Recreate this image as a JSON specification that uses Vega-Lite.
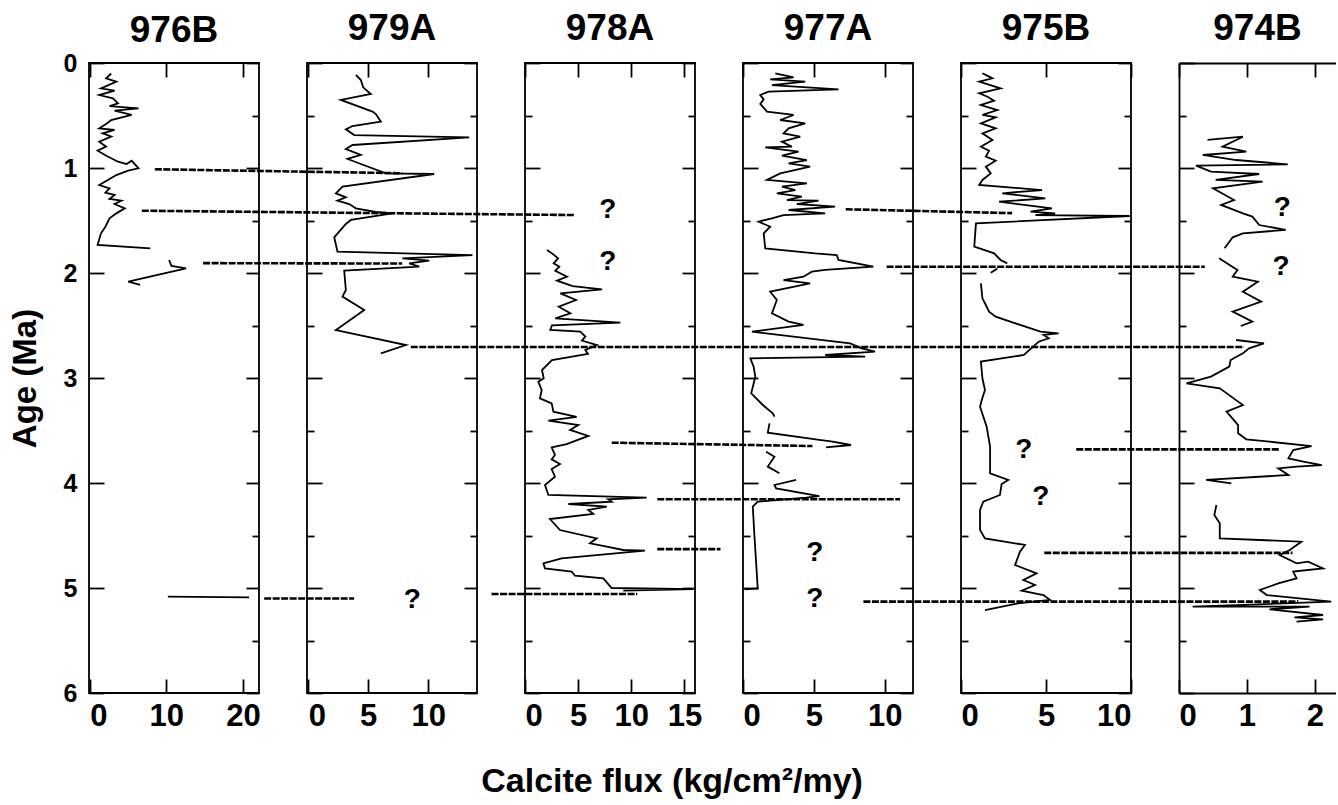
{
"$schema": "https://vega.github.io/schema/vega-lite/v6.json",
"padding": {"left": 8, "top": 9, "right": 0, "bottom": 3},
"background": "white",
"bounds": "flush",
"spacing": 48,
"title": {"text": "Calcite flux (kg/cm²/my)", "orient": "bottom", "anchor": "middle", "frame": "bounds", "fontSize": 34, "font": "Liberation Sans", "fontWeight": "bold", "color": "black", "baseline": "top", "offset": 33},
"config": {
  "view": {"stroke": "black", "strokeWidth": 1.8},
  "font": "Liberation Sans",
  "title": {"fontSize": 37, "font": "Liberation Sans", "fontWeight": "bold", "color": "black", "baseline": "alphabetic", "offset": 14, "anchor": "middle", "frame": "group"},
  "axis": {"grid": false, "domain": false, "tickColor": "black", "tickWidth": 1.8, "labelColor": "black", "labelFont": "Liberation Sans", "labelFontWeight": "bold", "titleColor": "black", "titleFont": "Liberation Sans", "titleFontWeight": "bold", "labelOverlap": false, "domainColor": "black", "domainWidth": 1.8},
  "axisX": {"labelFontSize": 31, "labelFlush": 4},
  "axisY": {"labelFontSize": 25}
},
"datasets": {
"curves": [
{"site":"976B","seg":"a","age":0.10,"flux":2.8},{"site":"976B","seg":"a","age":0.146,"flux":2.13},{"site":"976B","seg":"a","age":0.178,"flux":3.47},{"site":"976B","seg":"a","age":0.241,"flux":1.47},{"site":"976B","seg":"a","age":0.263,"flux":3.24},{"site":"976B","seg":"a","age":0.305,"flux":1.24},{"site":"976B","seg":"a","age":0.337,"flux":3.02},{"site":"976B","seg":"a","age":0.384,"flux":3.69},{"site":"976B","seg":"a","age":0.41,"flux":2.58},{"site":"976B","seg":"a","age":0.432,"flux":6.36},{"site":"976B","seg":"a","age":0.454,"flux":3.24},{"site":"976B","seg":"a","age":0.495,"flux":5.47},{"site":"976B","seg":"a","age":0.543,"flux":2.8},{"site":"976B","seg":"a","age":0.581,"flux":2.13},{"site":"976B","seg":"a","age":0.622,"flux":1.24},{"site":"976B","seg":"a","age":0.638,"flux":3.24},{"site":"976B","seg":"a","age":0.67,"flux":1.69},{"site":"976B","seg":"a","age":0.70,"flux":2.8},{"site":"976B","seg":"a","age":0.749,"flux":1.24},{"site":"976B","seg":"a","age":0.797,"flux":2.13},{"site":"976B","seg":"a","age":0.835,"flux":1.02},{"site":"976B","seg":"a","age":0.886,"flux":2.22},{"site":"976B","seg":"a","age":0.94,"flux":3.69},{"site":"976B","seg":"a","age":0.962,"flux":4.8},{"site":"976B","seg":"a","age":0.93,"flux":5.47},{"site":"976B","seg":"a","age":1.003,"flux":6.36},{"site":"976B","seg":"a","age":1.025,"flux":5.02},{"site":"976B","seg":"a","age":1.067,"flux":3.47},{"site":"976B","seg":"a","age":1.114,"flux":2.36},{"site":"976B","seg":"a","age":1.162,"flux":1.24},{"site":"976B","seg":"a","age":1.194,"flux":2.58},{"site":"976B","seg":"a","age":1.235,"flux":2.04},{"site":"976B","seg":"a","age":1.257,"flux":3.24},{"site":"976B","seg":"a","age":1.295,"flux":2.58},{"site":"976B","seg":"a","age":1.311,"flux":4.13},{"site":"976B","seg":"a","age":1.343,"flux":3.24},{"site":"976B","seg":"a","age":1.384,"flux":4.58},{"site":"976B","seg":"a","age":1.432,"flux":3.47},{"site":"976B","seg":"a","age":1.479,"flux":2.58},{"site":"976B","seg":"a","age":1.559,"flux":2.04},{"site":"976B","seg":"a","age":1.622,"flux":1.47},{"site":"976B","seg":"a","age":1.733,"flux":1.02},{"site":"976B","seg":"a","age":1.765,"flux":7.91},
{"site":"976B","seg":"b","age":1.876,"flux":10.36},{"site":"976B","seg":"b","age":1.933,"flux":10.67},{"site":"976B","seg":"b","age":1.956,"flux":12.58},{"site":"976B","seg":"b","age":2.083,"flux":5.02},{"site":"976B","seg":"b","age":2.114,"flux":6.58},
{"site":"976B","seg":"c","age":5.083,"flux":10.2},{"site":"976B","seg":"c","age":5.09,"flux":20.8},
{"site":"979A","seg":"a","age":0.114,"flux":3.97},{"site":"979A","seg":"a","age":0.162,"flux":4.39},{"site":"979A","seg":"a","age":0.232,"flux":4.58},{"site":"979A","seg":"a","age":0.295,"flux":5.22},{"site":"979A","seg":"a","age":0.352,"flux":2.72},{"site":"979A","seg":"a","age":0.463,"flux":5.36},{"site":"979A","seg":"a","age":0.486,"flux":5.64},{"site":"979A","seg":"a","age":0.559,"flux":6.06},{"site":"979A","seg":"a","age":0.60,"flux":3.69},{"site":"979A","seg":"a","age":0.632,"flux":3.14},{"site":"979A","seg":"a","age":0.686,"flux":3.83},{"site":"979A","seg":"a","age":0.708,"flux":13.42},{"site":"979A","seg":"a","age":0.781,"flux":3.69},{"site":"979A","seg":"a","age":0.819,"flux":3.14},{"site":"979A","seg":"a","age":0.876,"flux":4.39},{"site":"979A","seg":"a","age":0.914,"flux":3.28},{"site":"979A","seg":"a","age":1.051,"flux":6.47},{"site":"979A","seg":"a","age":1.057,"flux":10.5},{"site":"979A","seg":"a","age":1.178,"flux":2.86},{"site":"979A","seg":"a","age":1.241,"flux":2.31},{"site":"979A","seg":"a","age":1.279,"flux":3.14},{"site":"979A","seg":"a","age":1.311,"flux":2.44},{"site":"979A","seg":"a","age":1.343,"flux":3.42},{"site":"979A","seg":"a","age":1.384,"flux":3.97},{"site":"979A","seg":"a","age":1.419,"flux":5.64},{"site":"979A","seg":"a","age":1.432,"flux":7.03},{"site":"979A","seg":"a","age":1.495,"flux":3.56},{"site":"979A","seg":"a","age":1.533,"flux":3.14},{"site":"979A","seg":"a","age":1.66,"flux":2.17},{"site":"979A","seg":"a","age":1.797,"flux":2.44},{"site":"979A","seg":"a","age":1.829,"flux":13.69},{"site":"979A","seg":"a","age":1.86,"flux":7.86},{"site":"979A","seg":"a","age":1.883,"flux":10.08},{"site":"979A","seg":"a","age":1.908,"flux":8.42},{"site":"979A","seg":"a","age":1.94,"flux":9.25},{"site":"979A","seg":"a","age":1.978,"flux":3.0},{"site":"979A","seg":"a","age":2.162,"flux":3.14},{"site":"979A","seg":"a","age":2.225,"flux":2.86},{"site":"979A","seg":"a","age":2.352,"flux":4.67},{"site":"979A","seg":"a","age":2.543,"flux":2.31},{"site":"979A","seg":"a","age":2.686,"flux":8.14},{"site":"979A","seg":"a","age":2.765,"flux":6.06},
{"site":"978A","seg":"a","age":1.781,"flux":2.07},{"site":"978A","seg":"a","age":1.813,"flux":2.54},{"site":"978A","seg":"a","age":1.86,"flux":3.11},{"site":"978A","seg":"a","age":1.908,"flux":2.7},{"site":"978A","seg":"a","age":1.94,"flux":3.23},{"site":"978A","seg":"a","age":1.978,"flux":2.85},{"site":"978A","seg":"a","age":2.035,"flux":3.95},{"site":"978A","seg":"a","age":2.073,"flux":3.01},{"site":"978A","seg":"a","age":2.124,"flux":4.49},{"site":"978A","seg":"a","age":2.156,"flux":7.25},{"site":"978A","seg":"a","age":2.194,"flux":3.33},{"site":"978A","seg":"a","age":2.257,"flux":4.8},{"site":"978A","seg":"a","age":2.321,"flux":3.17},{"site":"978A","seg":"a","age":2.384,"flux":4.27},{"site":"978A","seg":"a","age":2.432,"flux":2.85},{"site":"978A","seg":"a","age":2.473,"flux":8.97},{"site":"978A","seg":"a","age":2.498,"flux":2.54},{"site":"978A","seg":"a","age":2.543,"flux":2.38},{"site":"978A","seg":"a","age":2.559,"flux":5.21},{"site":"978A","seg":"a","age":2.606,"flux":5.68},{"site":"978A","seg":"a","age":2.644,"flux":5.36},{"site":"978A","seg":"a","age":2.686,"flux":6.78},{"site":"978A","seg":"a","age":2.733,"flux":5.68},{"site":"978A","seg":"a","age":2.771,"flux":5.93},{"site":"978A","seg":"a","age":2.829,"flux":2.54},{"site":"978A","seg":"a","age":2.924,"flux":1.6},{"site":"978A","seg":"a","age":3.003,"flux":1.76},{"site":"978A","seg":"a","age":3.035,"flux":1.25},{"site":"978A","seg":"a","age":3.114,"flux":1.57},{"site":"978A","seg":"a","age":3.194,"flux":1.41},{"site":"978A","seg":"a","age":3.241,"flux":2.51},{"site":"978A","seg":"a","age":3.321,"flux":2.67},{"site":"978A","seg":"a","age":3.371,"flux":4.86},{"site":"978A","seg":"a","age":3.406,"flux":2.2},{"site":"978A","seg":"a","age":3.448,"flux":5.02},{"site":"978A","seg":"a","age":3.495,"flux":4.24},{"site":"978A","seg":"a","age":3.552,"flux":5.96},{"site":"978A","seg":"a","age":3.629,"flux":3.92},{"site":"978A","seg":"a","age":3.66,"flux":2.51},{"site":"978A","seg":"a","age":3.733,"flux":2.82},{"site":"978A","seg":"a","age":3.775,"flux":2.51},{"site":"978A","seg":"a","age":3.819,"flux":3.29},{"site":"978A","seg":"a","age":3.867,"flux":2.51},{"site":"978A","seg":"a","age":3.94,"flux":2.82},{"site":"978A","seg":"a","age":4.019,"flux":1.88},{"site":"978A","seg":"a","age":4.114,"flux":2.2},{"site":"978A","seg":"a","age":4.14,"flux":11.45},{"site":"978A","seg":"a","age":4.156,"flux":7.84},{"site":"978A","seg":"a","age":4.178,"flux":8.16},{"site":"978A","seg":"a","age":4.2,"flux":4.08},{"site":"978A","seg":"a","age":4.225,"flux":7.69},{"site":"978A","seg":"a","age":4.257,"flux":5.96},{"site":"978A","seg":"a","age":4.295,"flux":6.43},{"site":"978A","seg":"a","age":4.343,"flux":2.35},{"site":"978A","seg":"a","age":4.448,"flux":3.29},{"site":"978A","seg":"a","age":4.527,"flux":6.75},{"site":"978A","seg":"a","age":4.575,"flux":6.12},{"site":"978A","seg":"a","age":4.606,"flux":7.69},{"site":"978A","seg":"a","age":4.638,"flux":9.25},{"site":"978A","seg":"a","age":4.644,"flux":11.29},{"site":"978A","seg":"a","age":4.718,"flux":3.45},{"site":"978A","seg":"a","age":4.765,"flux":1.73},{"site":"978A","seg":"a","age":4.813,"flux":1.88},{"site":"978A","seg":"a","age":4.844,"flux":4.39},{"site":"978A","seg":"a","age":4.883,"flux":4.71},{"site":"978A","seg":"a","age":4.908,"flux":7.37},{"site":"978A","seg":"a","age":5.0,"flux":8.16},{"site":"978A","seg":"a","age":5.01,"flux":15.84},{"site":"978A","seg":"a","age":5.025,"flux":9.25},
{"site":"977A","seg":"a","age":0.098,"flux":2.28},{"site":"977A","seg":"a","age":0.137,"flux":3.57},{"site":"977A","seg":"a","age":0.156,"flux":1.92},{"site":"977A","seg":"a","age":0.178,"flux":4.39},{"site":"977A","seg":"a","age":0.21,"flux":2.04},{"site":"977A","seg":"a","age":0.251,"flux":6.74},{"site":"977A","seg":"a","age":0.273,"flux":1.81},{"site":"977A","seg":"a","age":0.305,"flux":1.22},{"site":"977A","seg":"a","age":0.346,"flux":1.46},{"site":"977A","seg":"a","age":0.39,"flux":1.22},{"site":"977A","seg":"a","age":0.463,"flux":1.69},{"site":"977A","seg":"a","age":0.495,"flux":3.57},{"site":"977A","seg":"a","age":0.543,"flux":2.63},{"site":"977A","seg":"a","age":0.575,"flux":4.39},{"site":"977A","seg":"a","age":0.622,"flux":3.22},{"site":"977A","seg":"a","age":0.67,"flux":2.86},{"site":"977A","seg":"a","age":0.702,"flux":4.04},{"site":"977A","seg":"a","age":0.749,"flux":2.75},{"site":"977A","seg":"a","age":0.797,"flux":3.45},{"site":"977A","seg":"a","age":0.803,"flux":1.57},{"site":"977A","seg":"a","age":0.844,"flux":3.92},{"site":"977A","seg":"a","age":0.883,"flux":2.75},{"site":"977A","seg":"a","age":0.924,"flux":4.51},{"site":"977A","seg":"a","age":0.956,"flux":3.22},{"site":"977A","seg":"a","age":0.987,"flux":4.74},{"site":"977A","seg":"a","age":1.051,"flux":2.63},{"site":"977A","seg":"a","age":1.114,"flux":1.69},{"site":"977A","seg":"a","age":1.146,"flux":4.51},{"site":"977A","seg":"a","age":1.178,"flux":2.75},{"site":"977A","seg":"a","age":1.21,"flux":3.69},{"site":"977A","seg":"a","age":1.241,"flux":2.39},{"site":"977A","seg":"a","age":1.273,"flux":4.15},{"site":"977A","seg":"a","age":1.305,"flux":3.1},{"site":"977A","seg":"a","age":1.311,"flux":5.33},{"site":"977A","seg":"a","age":1.343,"flux":3.8},{"site":"977A","seg":"a","age":1.368,"flux":6.5},{"site":"977A","seg":"a","age":1.4,"flux":3.22},{"site":"977A","seg":"a","age":1.432,"flux":5.8},{"site":"977A","seg":"a","age":1.448,"flux":2.86},{"site":"977A","seg":"a","age":1.479,"flux":2.04},{"site":"977A","seg":"a","age":1.511,"flux":1.1},{"site":"977A","seg":"a","age":1.559,"flux":1.92},{"site":"977A","seg":"a","age":1.622,"flux":1.46},{"site":"977A","seg":"a","age":1.765,"flux":1.57},{"site":"977A","seg":"a","age":1.813,"flux":5.09},{"site":"977A","seg":"a","age":1.829,"flux":6.62},{"site":"977A","seg":"a","age":1.876,"flux":6.74},{"site":"977A","seg":"a","age":1.94,"flux":9.2},{"site":"977A","seg":"a","age":1.971,"flux":5.8},{"site":"977A","seg":"a","age":1.987,"flux":4.86},{"site":"977A","seg":"a","age":2.035,"flux":4.27},{"site":"977A","seg":"a","age":2.067,"flux":2.86},{"site":"977A","seg":"a","age":2.098,"flux":4.74},{"site":"977A","seg":"a","age":2.178,"flux":1.92},{"site":"977A","seg":"a","age":2.257,"flux":2.39},{"site":"977A","seg":"a","age":2.384,"flux":2.04},{"site":"977A","seg":"a","age":2.463,"flux":3.22},{"site":"977A","seg":"a","age":2.495,"flux":4.27},{"site":"977A","seg":"a","age":2.559,"flux":0.63},{"site":"977A","seg":"a","age":2.67,"flux":7.56},{"site":"977A","seg":"a","age":2.717,"flux":8.38},{"site":"977A","seg":"a","age":2.749,"flux":9.32},{"site":"977A","seg":"a","age":2.781,"flux":5.8},{"site":"977A","seg":"a","age":2.797,"flux":8.62},{"site":"977A","seg":"a","age":2.813,"flux":0.52},{"site":"977A","seg":"a","age":2.892,"flux":0.75},{"site":"977A","seg":"a","age":2.987,"flux":0.87},{"site":"977A","seg":"a","age":3.146,"flux":0.58},{"site":"977A","seg":"a","age":3.257,"flux":1.4},{"site":"977A","seg":"a","age":3.336,"flux":2.1},{"site":"977A","seg":"a","age":3.368,"flux":2.22},
{"site":"977A","seg":"b","age":3.432,"flux":1.87},{"site":"977A","seg":"b","age":3.521,"flux":1.75},{"site":"977A","seg":"b","age":3.59,"flux":5.39},{"site":"977A","seg":"b","age":3.606,"flux":6.33},{"site":"977A","seg":"b","age":3.638,"flux":7.62},{"site":"977A","seg":"b","age":3.66,"flux":5.86},
{"site":"977A","seg":"c","age":3.702,"flux":1.63},{"site":"977A","seg":"c","age":3.75,"flux":2.22},{"site":"977A","seg":"c","age":3.844,"flux":1.75},{"site":"977A","seg":"c","age":3.908,"flux":2.57},
{"site":"977A","seg":"d","age":3.971,"flux":3.75},{"site":"977A","seg":"d","age":4.019,"flux":2.22},{"site":"977A","seg":"d","age":4.051,"flux":2.34},{"site":"977A","seg":"d","age":4.124,"flux":5.39},{"site":"977A","seg":"d","age":4.14,"flux":4.45},{"site":"977A","seg":"d","age":4.178,"flux":1.04},{"site":"977A","seg":"d","age":4.225,"flux":0.69},{"site":"977A","seg":"d","age":4.51,"flux":0.81},{"site":"977A","seg":"d","age":5.003,"flux":1.04},{"site":"977A","seg":"d","age":5.013,"flux":0.11},
{"site":"975B","seg":"a","age":0.098,"flux":1.26},{"site":"975B","seg":"a","age":0.146,"flux":1.85},{"site":"975B","seg":"a","age":0.178,"flux":1.07},{"site":"975B","seg":"a","age":0.241,"flux":2.33},{"site":"975B","seg":"a","age":0.289,"flux":1.07},{"site":"975B","seg":"a","age":0.321,"flux":1.56},{"site":"975B","seg":"a","age":0.359,"flux":1.95},{"site":"975B","seg":"a","age":0.4,"flux":1.17},{"site":"975B","seg":"a","age":0.448,"flux":2.14},{"site":"975B","seg":"a","age":0.495,"flux":1.26},{"site":"975B","seg":"a","age":0.517,"flux":2.04},{"site":"975B","seg":"a","age":0.575,"flux":1.17},{"site":"975B","seg":"a","age":0.622,"flux":2.04},{"site":"975B","seg":"a","age":0.67,"flux":1.26},{"site":"975B","seg":"a","age":0.733,"flux":1.85},{"site":"975B","seg":"a","age":0.797,"flux":1.17},{"site":"975B","seg":"a","age":0.835,"flux":1.65},{"site":"975B","seg":"a","age":0.892,"flux":1.46},{"site":"975B","seg":"a","age":0.93,"flux":2.04},{"site":"975B","seg":"a","age":0.987,"flux":1.46},{"site":"975B","seg":"a","age":1.051,"flux":1.75},{"site":"975B","seg":"a","age":1.114,"flux":1.26},{"site":"975B","seg":"a","age":1.162,"flux":1.07},{"site":"975B","seg":"a","age":1.21,"flux":4.77},{"site":"975B","seg":"a","age":1.241,"flux":2.43},{"site":"975B","seg":"a","age":1.289,"flux":4.96},{"site":"975B","seg":"a","age":1.321,"flux":2.24},{"site":"975B","seg":"a","age":1.384,"flux":5.35},{"site":"975B","seg":"a","age":1.416,"flux":4.09},{"site":"975B","seg":"a","age":1.432,"flux":5.54},{"site":"975B","seg":"a","age":1.448,"flux":4.38},{"site":"975B","seg":"a","age":1.457,"flux":9.92},{"site":"975B","seg":"a","age":1.527,"flux":0.88},{"site":"975B","seg":"a","age":1.749,"flux":0.78},{"site":"975B","seg":"a","age":1.813,"flux":1.95},{"site":"975B","seg":"a","age":1.876,"flux":2.33},{"site":"975B","seg":"a","age":1.908,"flux":2.72},
{"site":"975B","seg":"b","age":1.956,"flux":2.14},{"site":"975B","seg":"b","age":1.997,"flux":1.75},
{"site":"975B","seg":"c","age":2.098,"flux":1.17},{"site":"975B","seg":"c","age":2.241,"flux":1.26},{"site":"975B","seg":"c","age":2.305,"flux":1.46},{"site":"975B","seg":"c","age":2.368,"flux":1.65},{"site":"975B","seg":"c","age":2.416,"flux":2.04},{"site":"975B","seg":"c","age":2.559,"flux":4.67},{"site":"975B","seg":"c","age":2.575,"flux":5.74},{"site":"975B","seg":"c","age":2.59,"flux":4.86},{"site":"975B","seg":"c","age":2.622,"flux":5.16},{"site":"975B","seg":"c","age":2.654,"flux":4.57},{"site":"975B","seg":"c","age":2.781,"flux":3.7},{"site":"975B","seg":"c","age":2.844,"flux":1.17},{"site":"975B","seg":"c","age":3.003,"flux":1.26},{"site":"975B","seg":"c","age":3.114,"flux":1.41},{"site":"975B","seg":"c","age":3.21,"flux":1.22},{"site":"975B","seg":"c","age":3.273,"flux":1.12},{"site":"975B","seg":"c","age":3.463,"flux":1.51},{"site":"975B","seg":"c","age":3.654,"flux":1.71},{"site":"975B","seg":"c","age":3.78,"flux":1.71},{"site":"975B","seg":"c","age":3.908,"flux":1.71},{"site":"975B","seg":"c","age":3.971,"flux":2.78},{"site":"975B","seg":"c","age":4.01,"flux":2.39},{"site":"975B","seg":"c","age":4.114,"flux":2.29},{"site":"975B","seg":"c","age":4.178,"flux":1.31},{"site":"975B","seg":"c","age":4.257,"flux":1.12},{"site":"975B","seg":"c","age":4.448,"flux":1.12},{"site":"975B","seg":"c","age":4.527,"flux":1.41},{"site":"975B","seg":"c","age":4.59,"flux":3.76},{"site":"975B","seg":"c","age":4.654,"flux":3.47},{"site":"975B","seg":"c","age":4.781,"flux":3.18},{"site":"975B","seg":"c","age":4.86,"flux":4.45},{"site":"975B","seg":"c","age":4.924,"flux":3.67},{"site":"975B","seg":"c","age":4.971,"flux":4.35},{"site":"975B","seg":"c","age":5.025,"flux":3.57},{"site":"975B","seg":"c","age":5.067,"flux":4.84},{"site":"975B","seg":"c","age":5.114,"flux":5.24},{"site":"975B","seg":"c","age":5.146,"flux":3.37},{"site":"975B","seg":"c","age":5.21,"flux":1.41},
{"site":"974B","seg":"a","age":0.733,"flux":0.42},{"site":"974B","seg":"a","age":0.702,"flux":0.94},{"site":"974B","seg":"a","age":0.797,"flux":0.64},{"site":"974B","seg":"a","age":0.844,"flux":0.99},{"site":"974B","seg":"a","age":0.876,"flux":0.35},{"site":"974B","seg":"a","age":0.924,"flux":0.84},{"site":"974B","seg":"a","age":0.965,"flux":1.6},{"site":"974B","seg":"a","age":0.978,"flux":0.25},{"site":"974B","seg":"a","age":1.035,"flux":0.47},{"site":"974B","seg":"a","age":1.057,"flux":1.18},{"site":"974B","seg":"a","age":1.114,"flux":0.54},{"site":"974B","seg":"a","age":1.13,"flux":1.23},{"site":"974B","seg":"a","age":1.194,"flux":0.5},{"site":"974B","seg":"a","age":1.305,"flux":0.81},{"site":"974B","seg":"a","age":1.352,"flux":0.62},{"site":"974B","seg":"a","age":1.432,"flux":0.94},{"site":"974B","seg":"a","age":1.463,"flux":1.08},{"site":"974B","seg":"a","age":1.543,"flux":1.18},{"site":"974B","seg":"a","age":1.59,"flux":1.57},{"site":"974B","seg":"a","age":1.622,"flux":0.94},{"site":"974B","seg":"a","age":1.66,"flux":0.79},{"site":"974B","seg":"a","age":1.765,"flux":0.67},
{"site":"974B","seg":"b","age":1.86,"flux":0.59},{"site":"974B","seg":"b","age":1.971,"flux":0.86},{"site":"974B","seg":"b","age":2.035,"flux":0.79},{"site":"974B","seg":"b","age":2.083,"flux":1.16},{"site":"974B","seg":"b","age":2.178,"flux":0.94},{"site":"974B","seg":"b","age":2.273,"flux":1.21},{"site":"974B","seg":"b","age":2.368,"flux":0.79},{"site":"974B","seg":"b","age":2.463,"flux":1.08},{"site":"974B","seg":"b","age":2.505,"flux":0.91},
{"site":"974B","seg":"c","age":2.638,"flux":0.84},{"site":"974B","seg":"c","age":2.67,"flux":1.25},{"site":"974B","seg":"c","age":2.717,"flux":1.03},{"site":"974B","seg":"c","age":2.765,"flux":0.94},{"site":"974B","seg":"c","age":2.829,"flux":0.76},{"site":"974B","seg":"c","age":2.892,"flux":0.74},{"site":"974B","seg":"c","age":2.987,"flux":0.47},{"site":"974B","seg":"c","age":3.051,"flux":0.11},{"site":"974B","seg":"c","age":3.098,"flux":0.6},{"site":"974B","seg":"c","age":3.225,"flux":0.87},{"site":"974B","seg":"c","age":3.257,"flux":0.94},{"site":"974B","seg":"c","age":3.321,"flux":0.7},{"site":"974B","seg":"c","age":3.448,"flux":0.87},{"site":"974B","seg":"c","age":3.527,"flux":0.87},{"site":"974B","seg":"c","age":3.584,"flux":0.99},{"site":"974B","seg":"c","age":3.648,"flux":1.95},{"site":"974B","seg":"c","age":3.686,"flux":1.68},{"site":"974B","seg":"c","age":3.765,"flux":1.61},{"site":"974B","seg":"c","age":3.797,"flux":1.83},{"site":"974B","seg":"c","age":3.829,"flux":2.1},{"site":"974B","seg":"c","age":3.844,"flux":1.73},{"site":"974B","seg":"c","age":3.86,"flux":1.46},{"site":"974B","seg":"c","age":3.924,"flux":1.61},{"site":"974B","seg":"c","age":3.971,"flux":0.4},{"site":"974B","seg":"c","age":4.003,"flux":0.77},
{"site":"974B","seg":"d","age":4.21,"flux":0.55},{"site":"974B","seg":"d","age":4.305,"flux":0.52},{"site":"974B","seg":"d","age":4.384,"flux":0.6},{"site":"974B","seg":"d","age":4.527,"flux":0.6},{"site":"974B","seg":"d","age":4.559,"flux":1.8},{"site":"974B","seg":"d","age":4.638,"flux":1.63},{"site":"974B","seg":"d","age":4.686,"flux":1.48},{"site":"974B","seg":"d","age":4.765,"flux":1.73},{"site":"974B","seg":"d","age":4.749,"flux":1.9},{"site":"974B","seg":"d","age":4.813,"flux":2.12},{"site":"974B","seg":"d","age":4.844,"flux":1.68},{"site":"974B","seg":"d","age":4.908,"flux":1.73},{"site":"974B","seg":"d","age":4.956,"flux":1.46},{"site":"974B","seg":"d","age":5.019,"flux":1.19},{"site":"974B","seg":"d","age":5.067,"flux":1.29},{"site":"974B","seg":"d","age":5.13,"flux":2.24},{"site":"974B","seg":"d","age":5.178,"flux":0.2},{"site":"974B","seg":"d","age":5.178,"flux":1.92},{"site":"974B","seg":"d","age":5.203,"flux":1.33},{"site":"974B","seg":"d","age":5.257,"flux":2.12},{"site":"974B","seg":"d","age":5.279,"flux":1.7},{"site":"974B","seg":"d","age":5.298,"flux":2.12},{"site":"974B","seg":"d","age":5.321,"flux":1.73}
],
"corr": [
{"host":"976B","id":"L1","age":1.012,"flux":8.5},{"host":"976B","id":"L1","age":1.05,"flux":40.8},
{"host":"976B","id":"L2","age":1.407,"flux":6.8},{"host":"976B","id":"L2","age":1.448,"flux":63.3},
{"host":"976B","id":"L3","age":1.906,"flux":14.8},{"host":"976B","id":"L3","age":1.91,"flux":40.8},
{"host":"979A","id":"L4","age":2.705,"flux":8.55},{"host":"979A","id":"L4","age":2.705,"flux":78.0},
{"host":"979A","id":"L11","age":5.10,"flux":-3.67},{"host":"979A","id":"L11","age":5.10,"flux":3.83},
{"host":"978A","id":"L7","age":3.616,"flux":8.16},{"host":"978A","id":"L7","age":3.648,"flux":27.05},
{"host":"978A","id":"L8","age":4.155,"flux":12.45},{"host":"978A","id":"L8","age":4.155,"flux":35.3},
{"host":"978A","id":"L9","age":4.63,"flux":12.45},{"host":"978A","id":"L9","age":4.63,"flux":18.4},
{"host":"978A","id":"L10","age":5.057,"flux":-3.15},{"host":"978A","id":"L10","age":5.057,"flux":10.57},
{"host":"977A","id":"L5","age":1.393,"flux":7.25},{"host":"977A","id":"L5","age":1.43,"flux":19.0},
{"host":"977A","id":"L6","age":1.94,"flux":10.14},{"host":"977A","id":"L6","age":1.94,"flux":32.6},
{"host":"977A","id":"L12","age":5.13,"flux":8.5},{"host":"977A","id":"L12","age":5.13,"flux":39.2},
{"host":"975B","id":"L13","age":3.68,"flux":6.78},{"host":"975B","id":"L13","age":3.68,"flux":18.7},
{"host":"975B","id":"L14","age":4.665,"flux":4.9},{"host":"975B","id":"L14","age":4.665,"flux":19.5}
],
"q": [
{"site":"979A","age":5.11,"flux":8.67},
{"site":"978A","age":1.40,"flux":7.8},{"site":"978A","age":1.892,"flux":7.8},
{"site":"977A","age":4.67,"flux":5.07},{"site":"977A","age":5.10,"flux":5.07},
{"site":"975B","age":3.686,"flux":3.7},{"site":"975B","age":4.13,"flux":4.7},
{"site":"974B","age":1.384,"flux":1.52},{"site":"974B","age":1.94,"flux":1.5}
]
},
"hconcat": [
{
 "width": 170, "height": 630, "title": {"text": "976B", "offset": 1.5},
 "layer": [
  {"data": {"name": "curves"}, "transform": [{"filter": {"field": "site", "equal": "976B"}}],
   "mark": {"type": "line", "color": "black", "strokeWidth": 1.8, "clip": false},
   "encoding": {
    "x": {"field": "flux", "type": "quantitative", "scale": {"domain": [-0.1, 22.1], "nice": false, "zero": false}, "axis": {"orient": "bottom", "values": [0, 10, 20], "tickSize": -14, "labelPadding": 22, "title": null}},
    "y": {"field": "age", "type": "quantitative", "scale": {"domain": [0, 6], "reverse": true, "nice": false, "zero": false}, "axis": {"orient": "left", "values": [0,0.5,1,1.5,2,2.5,3,3.5,4,4.5,5,5.5,6], "format": "d", "tickSize": {"condition": {"test": "datum.value % 1 !== 0", "value": -7}, "value": -15}, "labelExpr": "datum.value % 1 === 0 ? datum.label : ''", "labelPadding": 27, "title": "Age (Ma)", "titleFontSize": 33, "titlePadding": 21}},
    "detail": {"field": "seg"}, "order": {"value": null}}},
  {"data": {"name": "corr"}, "transform": [{"filter": {"field": "host", "equal": "976B"}}],
   "mark": {"type": "line", "color": "black", "strokeWidth": 2.6, "strokeDash": [7, 1.5], "clip": false},
   "encoding": {
    "x": {"field": "flux", "type": "quantitative", "scale": {"domain": [-0.1, 22.1], "nice": false, "zero": false}, "axis": {"orient": "top", "values": [0, 10, 20], "tickSize": -14, "labels": false, "title": null}},
    "y": {"field": "age", "type": "quantitative", "scale": {"domain": [0, 6], "reverse": true, "nice": false, "zero": false}, "axis": {"orient": "right", "values": [0,0.5,1,1.5,2,2.5,3,3.5,4,4.5,5,5.5,6], "tickSize": {"condition": {"test": "datum.value % 1 !== 0", "value": -7}, "value": -13}, "labels": false, "title": null}},
    "detail": {"field": "id"}, "order": {"value": null}}}
 ],
 "resolve": {"axis": {"x": "independent", "y": "independent"}}
},
{
 "width": 170, "height": 630, "title": {"text": "979A"},
 "layer": [
  {"data": {"name": "curves"}, "transform": [{"filter": {"field": "site", "equal": "979A"}}],
   "mark": {"type": "line", "color": "black", "strokeWidth": 1.8, "clip": false},
   "encoding": {
    "x": {"field": "flux", "type": "quantitative", "scale": {"domain": [-0.1, 14.07], "nice": false, "zero": false}, "axis": {"orient": "bottom", "values": [0, 5, 10], "tickSize": -14, "labelPadding": 22, "title": null}},
    "y": {"field": "age", "type": "quantitative", "scale": {"domain": [0, 6], "reverse": true, "nice": false, "zero": false}, "axis": {"orient": "left", "values": [0,0.5,1,1.5,2,2.5,3,3.5,4,4.5,5,5.5,6], "tickSize": {"condition": {"test": "datum.value % 1 !== 0", "value": -7}, "value": -15}, "labels": false, "title": null}},
    "detail": {"field": "seg"}, "order": {"value": null}}},
  {"data": {"name": "corr"}, "transform": [{"filter": {"field": "host", "equal": "979A"}}],
   "mark": {"type": "line", "color": "black", "strokeWidth": 2.6, "strokeDash": [7, 1.5], "clip": false},
   "encoding": {
    "x": {"field": "flux", "type": "quantitative", "scale": {"domain": [-0.1, 14.07], "nice": false, "zero": false}, "axis": {"orient": "top", "values": [0, 5, 10], "tickSize": -14, "labels": false, "title": null}},
    "y": {"field": "age", "type": "quantitative", "scale": {"domain": [0, 6], "reverse": true, "nice": false, "zero": false}, "axis": {"orient": "right", "values": [0,0.5,1,1.5,2,2.5,3,3.5,4,4.5,5,5.5,6], "tickSize": {"condition": {"test": "datum.value % 1 !== 0", "value": -7}, "value": -13}, "labels": false, "title": null}},
    "detail": {"field": "id"}, "order": {"value": null}}},
  {"data": {"name": "q"}, "transform": [{"filter": {"field": "site", "equal": "979A"}}],
   "mark": {"type": "text", "text": "?", "fontSize": 28, "fontWeight": "bold", "font": "Liberation Sans", "baseline": "middle", "align": "center", "color": "black"},
   "encoding": {"x": {"field": "flux", "type": "quantitative", "scale": {"domain": [-0.1, 14.07], "nice": false, "zero": false}, "axis": null}, "y": {"field": "age", "type": "quantitative", "scale": {"domain": [0, 6], "reverse": true, "nice": false, "zero": false}, "axis": null}}}
 ],
 "resolve": {"axis": {"x": "independent", "y": "independent"}}
},
{
 "width": 170, "height": 630, "title": {"text": "978A"},
 "layer": [
  {"data": {"name": "curves"}, "transform": [{"filter": {"field": "site", "equal": "978A"}}],
   "mark": {"type": "line", "color": "black", "strokeWidth": 1.8, "clip": false},
   "encoding": {
    "x": {"field": "flux", "type": "quantitative", "scale": {"domain": [0, 16], "nice": false, "zero": false}, "axis": {"orient": "bottom", "values": [0, 5, 10, 15], "tickSize": -14, "labelPadding": 22, "title": null}},
    "y": {"field": "age", "type": "quantitative", "scale": {"domain": [0, 6], "reverse": true, "nice": false, "zero": false}, "axis": {"orient": "left", "values": [0,0.5,1,1.5,2,2.5,3,3.5,4,4.5,5,5.5,6], "tickSize": {"condition": {"test": "datum.value % 1 !== 0", "value": -7}, "value": -15}, "labels": false, "title": null}},
    "detail": {"field": "seg"}, "order": {"value": null}}},
  {"data": {"name": "corr"}, "transform": [{"filter": {"field": "host", "equal": "978A"}}],
   "mark": {"type": "line", "color": "black", "strokeWidth": 2.6, "strokeDash": [7, 1.5], "clip": false},
   "encoding": {
    "x": {"field": "flux", "type": "quantitative", "scale": {"domain": [0, 16], "nice": false, "zero": false}, "axis": {"orient": "top", "values": [0, 5, 10, 15], "tickSize": -14, "labels": false, "title": null}},
    "y": {"field": "age", "type": "quantitative", "scale": {"domain": [0, 6], "reverse": true, "nice": false, "zero": false}, "axis": {"orient": "right", "values": [0,0.5,1,1.5,2,2.5,3,3.5,4,4.5,5,5.5,6], "tickSize": {"condition": {"test": "datum.value % 1 !== 0", "value": -7}, "value": -13}, "labels": false, "title": null}},
    "detail": {"field": "id"}, "order": {"value": null}}},
  {"data": {"name": "q"}, "transform": [{"filter": {"field": "site", "equal": "978A"}}],
   "mark": {"type": "text", "text": "?", "fontSize": 28, "fontWeight": "bold", "font": "Liberation Sans", "baseline": "middle", "align": "center", "color": "black"},
   "encoding": {"x": {"field": "flux", "type": "quantitative", "scale": {"domain": [0, 16], "nice": false, "zero": false}, "axis": null}, "y": {"field": "age", "type": "quantitative", "scale": {"domain": [0, 6], "reverse": true, "nice": false, "zero": false}, "axis": null}}}
 ],
 "resolve": {"axis": {"x": "independent", "y": "independent"}}
},
{
 "width": 170, "height": 630, "title": {"text": "977A"},
 "layer": [
  {"data": {"name": "curves"}, "transform": [{"filter": {"field": "site", "equal": "977A"}}],
   "mark": {"type": "line", "color": "black", "strokeWidth": 1.8, "clip": false},
   "encoding": {
    "x": {"field": "flux", "type": "quantitative", "scale": {"domain": [0, 12], "nice": false, "zero": false}, "axis": {"orient": "bottom", "values": [0, 5, 10], "tickSize": -14, "labelPadding": 22, "title": null}},
    "y": {"field": "age", "type": "quantitative", "scale": {"domain": [0, 6], "reverse": true, "nice": false, "zero": false}, "axis": {"orient": "left", "values": [0,0.5,1,1.5,2,2.5,3,3.5,4,4.5,5,5.5,6], "tickSize": {"condition": {"test": "datum.value % 1 !== 0", "value": -7}, "value": -15}, "labels": false, "title": null}},
    "detail": {"field": "seg"}, "order": {"value": null}}},
  {"data": {"name": "corr"}, "transform": [{"filter": {"field": "host", "equal": "977A"}}],
   "mark": {"type": "line", "color": "black", "strokeWidth": 2.6, "strokeDash": [7, 1.5], "clip": false},
   "encoding": {
    "x": {"field": "flux", "type": "quantitative", "scale": {"domain": [0, 12], "nice": false, "zero": false}, "axis": {"orient": "top", "values": [0, 5, 10], "tickSize": -14, "labels": false, "title": null}},
    "y": {"field": "age", "type": "quantitative", "scale": {"domain": [0, 6], "reverse": true, "nice": false, "zero": false}, "axis": {"orient": "right", "values": [0,0.5,1,1.5,2,2.5,3,3.5,4,4.5,5,5.5,6], "tickSize": {"condition": {"test": "datum.value % 1 !== 0", "value": -7}, "value": -13}, "labels": false, "title": null}},
    "detail": {"field": "id"}, "order": {"value": null}}},
  {"data": {"name": "q"}, "transform": [{"filter": {"field": "site", "equal": "977A"}}],
   "mark": {"type": "text", "text": "?", "fontSize": 28, "fontWeight": "bold", "font": "Liberation Sans", "baseline": "middle", "align": "center", "color": "black"},
   "encoding": {"x": {"field": "flux", "type": "quantitative", "scale": {"domain": [0, 12], "nice": false, "zero": false}, "axis": null}, "y": {"field": "age", "type": "quantitative", "scale": {"domain": [0, 6], "reverse": true, "nice": false, "zero": false}, "axis": null}}}
 ],
 "resolve": {"axis": {"x": "independent", "y": "independent"}}
},
{
 "width": 170, "height": 630, "title": {"text": "975B"},
 "layer": [
  {"data": {"name": "curves"}, "transform": [{"filter": {"field": "site", "equal": "975B"}}],
   "mark": {"type": "line", "color": "black", "strokeWidth": 1.8, "clip": false},
   "encoding": {
    "x": {"field": "flux", "type": "quantitative", "scale": {"domain": [0, 10], "nice": false, "zero": false}, "axis": {"orient": "bottom", "values": [0, 5, 10], "tickSize": -14, "labelPadding": 22, "title": null}},
    "y": {"field": "age", "type": "quantitative", "scale": {"domain": [0, 6], "reverse": true, "nice": false, "zero": false}, "axis": {"orient": "left", "values": [0,0.5,1,1.5,2,2.5,3,3.5,4,4.5,5,5.5,6], "tickSize": {"condition": {"test": "datum.value % 1 !== 0", "value": -7}, "value": -15}, "labels": false, "title": null}},
    "detail": {"field": "seg"}, "order": {"value": null}}},
  {"data": {"name": "corr"}, "transform": [{"filter": {"field": "host", "equal": "975B"}}],
   "mark": {"type": "line", "color": "black", "strokeWidth": 2.6, "strokeDash": [7, 1.5], "clip": false},
   "encoding": {
    "x": {"field": "flux", "type": "quantitative", "scale": {"domain": [0, 10], "nice": false, "zero": false}, "axis": {"orient": "top", "values": [0, 5, 10], "tickSize": -14, "labels": false, "title": null}},
    "y": {"field": "age", "type": "quantitative", "scale": {"domain": [0, 6], "reverse": true, "nice": false, "zero": false}, "axis": {"orient": "right", "values": [0,0.5,1,1.5,2,2.5,3,3.5,4,4.5,5,5.5,6], "tickSize": {"condition": {"test": "datum.value % 1 !== 0", "value": -7}, "value": -13}, "labels": false, "title": null}},
    "detail": {"field": "id"}, "order": {"value": null}}},
  {"data": {"name": "q"}, "transform": [{"filter": {"field": "site", "equal": "975B"}}],
   "mark": {"type": "text", "text": "?", "fontSize": 28, "fontWeight": "bold", "font": "Liberation Sans", "baseline": "middle", "align": "center", "color": "black"},
   "encoding": {"x": {"field": "flux", "type": "quantitative", "scale": {"domain": [0, 10], "nice": false, "zero": false}, "axis": null}, "y": {"field": "age", "type": "quantitative", "scale": {"domain": [0, 6], "reverse": true, "nice": false, "zero": false}, "axis": null}}}
 ],
 "resolve": {"axis": {"x": "independent", "y": "independent"}}
},
{
 "width": 157, "height": 630, "title": {"text": "974B"},
 "view": {"stroke": null},
 "layer": [
  {"data": {"name": "curves"}, "transform": [{"filter": {"field": "site", "equal": "974B"}}],
   "mark": {"type": "line", "color": "black", "strokeWidth": 1.8, "clip": false},
   "encoding": {
    "x": {"field": "flux", "type": "quantitative", "scale": {"domain": [0, 2.31], "nice": false, "zero": false}, "axis": {"orient": "bottom", "values": [0, 1, 2], "tickSize": -14, "labelPadding": 22, "title": null, "domain": true}},
    "y": {"field": "age", "type": "quantitative", "scale": {"domain": [0, 6], "reverse": true, "nice": false, "zero": false}, "axis": {"orient": "left", "values": [0,0.5,1,1.5,2,2.5,3,3.5,4,4.5,5,5.5,6], "tickSize": {"condition": {"test": "datum.value % 1 !== 0", "value": -7}, "value": -15}, "labels": false, "title": null, "domain": true}},
    "detail": {"field": "seg"}, "order": {"value": null}}},
  {"data": {"name": "q"}, "transform": [{"filter": {"field": "site", "equal": "974B"}}],
   "mark": {"type": "text", "text": "?", "fontSize": 28, "fontWeight": "bold", "font": "Liberation Sans", "baseline": "middle", "align": "center", "color": "black"},
   "encoding": {"x": {"field": "flux", "type": "quantitative", "scale": {"domain": [0, 2.31], "nice": false, "zero": false}, "axis": {"orient": "top", "values": [0, 1, 2], "tickSize": -14, "labels": false, "title": null, "domain": true}}, "y": {"field": "age", "type": "quantitative", "scale": {"domain": [0, 6], "reverse": true, "nice": false, "zero": false}, "axis": null}}}
 ],
 "resolve": {"axis": {"x": "independent", "y": "independent"}}
}
]
}
